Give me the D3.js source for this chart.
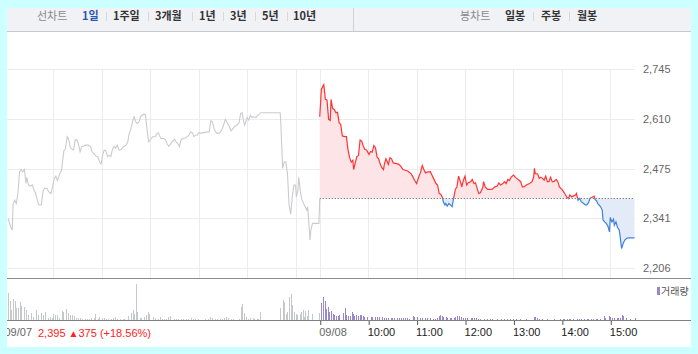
<!DOCTYPE html>
<html>
<head>
<meta charset="utf-8">
<script src="https://cdn.jsdelivr.net/npm/d3@7"></script>
<style>
  html, body { margin: 0; padding: 0; background: #ccffff; }
  svg { display: block; }
  text { font-family: "Liberation Sans", Arial, sans-serif; }
  .kr { font-family: "Noto Sans CJK KR", sans-serif; }
</style>
</head>
<body>
<div id="container"></div>
<script>
const WIDTH = 698;
const HEIGHT = 354;

// 전일 종가
const PREV_CLOSE = 2395;

// 가격축 눈금
const priceTicks = [2206, 2341, 2475, 2610, 2745];

// 하단 축 (분, 09:00 기준 / 두번째 날은 +390)
const axisMinutes = [0, 390, 450, 510, 570, 630, 690, 750];
const axisLabels = ['09/07', '09/08', '10:00', '11:00', '12:00', '13:00', '14:00', '15:00'];
const gridMinutes = [60, 120, 180, 240, 300, 360, 390, 450, 510, 570, 630, 690, 750];

// 09/07 가격 (분, 원)
const prevTimes = [4, 7, 9, 10, 12, 14, 16, 18, 20, 22, 24, 26, 27, 29, 31, 34, 36, 38, 40, 42, 45, 47, 49, 52, 54, 57, 59, 61, 63, 65, 68, 70, 72, 73, 75, 77, 79, 81, 84, 85, 87, 89, 91, 93, 95, 97, 100, 103, 106, 108, 111, 113, 115, 117, 119, 121, 123, 125, 127, 129, 131, 133, 135, 137, 139, 141, 144, 146, 148, 150, 152, 154, 156, 158, 160, 162, 164, 166, 168, 170, 172, 174, 176, 178, 180, 183, 186, 188, 190, 193, 197, 199, 201, 203, 205, 207, 210, 212, 214, 216, 218, 220, 224, 226, 228, 230, 232, 234, 236, 238, 240, 243, 245, 247, 251, 253, 255, 257, 259, 261, 263, 265, 267, 269, 271, 273, 276, 278, 280, 282, 284, 286, 288, 290, 292, 294, 295, 297, 299, 300, 302, 304, 306, 308, 311, 313, 315, 317, 341, 342, 344, 346, 348, 350, 352, 354, 356, 358, 360, 361, 363, 364, 366, 368, 370, 372, 374, 375, 377, 378, 379, 381, 389, 390];
const prevPrices = [2340, 2318, 2309, 2377, 2390, 2381, 2408, 2467, 2473, 2467, 2473, 2435, 2452, 2431, 2428, 2431, 2417, 2408, 2390, 2377, 2377, 2413, 2422, 2422, 2413, 2408, 2426, 2449, 2455, 2443, 2462, 2471, 2508, 2524, 2530, 2562, 2554, 2532, 2527, 2526, 2554, 2553, 2542, 2521, 2535, 2536, 2539, 2539, 2535, 2521, 2514, 2509, 2508, 2494, 2488, 2512, 2526, 2524, 2508, 2512, 2508, 2526, 2536, 2530, 2539, 2526, 2527, 2533, 2536, 2539, 2547, 2571, 2584, 2602, 2616, 2602, 2598, 2602, 2616, 2620, 2623, 2622, 2580, 2548, 2553, 2562, 2562, 2569, 2573, 2557, 2557, 2553, 2542, 2536, 2542, 2548, 2555, 2548, 2544, 2535, 2553, 2557, 2559, 2562, 2566, 2575, 2573, 2562, 2566, 2566, 2573, 2571, 2573, 2573, 2575, 2575, 2605, 2602, 2584, 2575, 2571, 2571, 2575, 2582, 2595, 2609, 2598, 2589, 2578, 2582, 2589, 2591, 2596, 2600, 2625, 2627, 2611, 2593, 2607, 2614, 2607, 2620, 2614, 2616, 2614, 2620, 2623, 2627, 2627, 2589, 2476, 2494, 2494, 2462, 2377, 2352, 2399, 2431, 2431, 2399, 2417, 2452, 2413, 2390, 2381, 2372, 2363, 2372, 2313, 2282, 2309, 2327, 2327, 2395];

// 09/08 가격
const todayTimes = [0, 2, 4, 5, 7, 9, 11, 13, 14, 16, 18, 20, 22, 24, 26, 28, 31, 33, 35, 37, 39, 41, 42, 44, 46, 48, 50, 52, 54, 56, 58, 61, 63, 65, 67, 69, 71, 73, 75, 77, 79, 80, 82, 85, 87, 89, 91, 95, 98, 101, 103, 106, 109, 113, 115, 118, 120, 123, 125, 127, 129, 131, 133, 137, 139, 141, 144, 146, 148, 150, 152, 153, 155, 156, 158, 160, 162, 164, 166, 168, 170, 172, 175, 176, 178, 180, 182, 184, 187, 189, 191, 193, 195, 197, 199, 202, 203, 205, 208, 211, 214, 217, 220, 222, 224, 227, 229, 231, 233, 235, 237, 240, 242, 244, 247, 249, 251, 253, 256, 260, 263, 265, 266, 267, 270, 272, 274, 276, 278, 280, 282, 284, 286, 288, 290, 293, 295, 297, 300, 302, 304, 306, 308, 310, 312, 314, 317, 318, 320, 322, 324, 327, 329, 331, 333, 335, 337, 340, 341, 343, 345, 346, 348, 350, 351, 353, 355, 357, 359, 360, 362, 364, 365, 367, 369, 371, 372, 374, 376, 378, 380, 382, 390];
const todayPrices = [2616, 2690, 2699, 2703, 2663, 2661, 2609, 2606, 2663, 2638, 2636, 2627, 2628, 2600, 2595, 2564, 2562, 2562, 2527, 2505, 2493, 2498, 2473, 2491, 2508, 2511, 2553, 2550, 2536, 2527, 2526, 2514, 2522, 2520, 2538, 2532, 2507, 2502, 2487, 2478, 2473, 2487, 2502, 2487, 2505, 2502, 2491, 2489, 2487, 2480, 2473, 2471, 2469, 2462, 2455, 2442, 2435, 2455, 2466, 2484, 2473, 2464, 2466, 2467, 2458, 2449, 2435, 2431, 2408, 2406, 2397, 2386, 2377, 2381, 2374, 2381, 2377, 2372, 2397, 2419, 2426, 2455, 2435, 2426, 2444, 2455, 2431, 2437, 2440, 2446, 2435, 2437, 2422, 2408, 2410, 2424, 2440, 2426, 2419, 2419, 2420, 2426, 2428, 2437, 2431, 2435, 2440, 2435, 2446, 2443, 2452, 2458, 2453, 2449, 2444, 2440, 2426, 2426, 2431, 2435, 2440, 2452, 2476, 2462, 2461, 2449, 2452, 2449, 2444, 2455, 2440, 2440, 2452, 2440, 2440, 2446, 2440, 2426, 2419, 2413, 2406, 2399, 2394, 2404, 2399, 2401, 2404, 2408, 2390, 2395, 2386, 2381, 2377, 2377, 2383, 2395, 2397, 2401, 2392, 2388, 2379, 2377, 2372, 2363, 2336, 2331, 2327, 2320, 2304, 2343, 2331, 2338, 2322, 2331, 2316, 2309, 2295, 2259, 2273, 2282, 2286, 2288, 2288];

// 거래량 (상대값)
const prevVolTimes = [4, 6, 7, 10, 13, 14, 16, 19, 20, 23, 24, 26, 29, 32, 35, 38, 41, 45, 47, 50, 53, 56, 58, 60, 62, 65, 67, 71, 72, 75, 78, 80, 83, 85, 88, 91, 93, 96, 99, 101, 104, 107, 110, 112, 115, 117, 120, 123, 125, 128, 131, 134, 136, 139, 143, 146, 148, 152, 153, 156, 158, 160, 162, 164, 167, 169, 172, 175, 177, 179, 183, 186, 189, 192, 194, 197, 200, 202, 204, 209, 212, 214, 218, 221, 224, 227, 230, 233, 236, 239, 248, 251, 254, 256, 260, 263, 266, 269, 271, 274, 276, 280, 282, 290, 292, 294, 296, 299, 301, 304, 307, 309, 312, 314, 316, 341, 344, 346, 348, 350, 352, 354, 356, 358, 360, 362, 365, 367, 369, 370, 372, 374, 376, 381, 389];
const prevVols = [27, 19, 10, 21, 19, 12, 12, 18, 14, 13, 6, 10, 5, 7, 3, 10, 5, 7, 5, 8, 2, 3, 2, 6, 5, 5, 2, 9, 8, 11, 7, 5, 5, 4, 2, 2, 2, 1, 1, 1, 1, 2, 2, 6, 1, 3, 2, 2, 1, 1, 1, 2, 3, 1, 1, 1, 1, 2, 4, 7, 10, 6, 36, 8, 2, 2, 3, 5, 8, 6, 3, 2, 1, 3, 1, 1, 1, 3, 4, 1, 1, 1, 1, 1, 1, 1, 2, 1, 1, 1, 1, 1, 3, 2, 1, 1, 1, 1, 2, 3, 2, 1, 1, 1, 13, 16, 7, 3, 1, 2, 2, 1, 1, 1, 8, 12, 20, 18, 6, 8, 23, 26, 15, 8, 6, 5, 6, 8, 10, 3, 9, 4, 10, 6, 7];
const todayVolTimes = [2, 4, 6, 8, 10, 12, 14, 16, 18, 20, 22, 24, 29, 31, 33, 35, 37, 40, 41, 43, 45, 48, 50, 51, 53, 55, 59, 63, 65, 69, 71, 74, 77, 79, 82, 84, 88, 90, 92, 96, 98, 101, 103, 106, 108, 111, 115, 117, 120, 121, 124, 127, 130, 133, 136, 140, 143, 145, 148, 149, 151, 153, 156, 158, 161, 163, 166, 168, 170, 173, 175, 177, 180, 183, 187, 189, 191, 194, 196, 199, 203, 207, 211, 214, 220, 224, 228, 232, 236, 240, 243, 248, 255, 266, 267, 269, 272, 276, 282, 290, 298, 301, 303, 306, 309, 310, 314, 319, 321, 324, 327, 331, 333, 336, 338, 342, 344, 347, 352, 354, 358, 360, 362, 365, 368, 370, 372, 375, 376, 379, 380, 384, 390];
const todayVols = [17, 23, 19, 11, 13, 8, 9, 6, 5, 4, 4, 5, 7, 12, 5, 4, 4, 8, 6, 4, 5, 4, 5, 5, 4, 3, 3, 3, 3, 3, 3, 3, 3, 2, 2, 2, 2, 2, 2, 2, 2, 2, 2, 2, 2, 1, 4, 3, 3, 3, 2, 2, 2, 2, 2, 1, 1, 2, 4, 5, 4, 3, 3, 2, 2, 2, 2, 3, 4, 4, 3, 2, 2, 2, 2, 2, 2, 2, 1, 1, 1, 1, 1, 1, 1, 1, 1, 1, 1, 1, 1, 1, 1, 3, 3, 2, 1, 1, 1, 1, 1, 1, 1, 1, 1, 1, 1, 1, 1, 1, 1, 1, 1, 1, 1, 1, 1, 1, 4, 2, 4, 3, 2, 2, 2, 2, 2, 5, 4, 2, 1, 1, 2];

const prevData = prevTimes.map((t, i) => [t, prevPrices[i]]);
const todayData = todayTimes.map((t, i) => [t + 390, todayPrices[i]]);
const prevVolData = prevVolTimes.map((t, i) => [t, prevVols[i]]);
const todayVolData = todayVolTimes.map((t, i) => [t + 390, todayVols[i]]);

const svg = d3.select('#container')
              .append('svg')
                .attr('width', WIDTH)
                .attr('height', HEIGHT);

const defs = svg.append('defs');
defs.append('clipPath').attr('id', 'panel')
    .append('rect').attr('x', 7).attr('y', 8).attr('width', 684).attr('height', 339);

const x = d3.scaleLinear().domain([0, 780]).range([5, 634.5]);
const y = d3.scaleLinear().domain([2179, 2824]).range([278, 40]);
const yv = d3.scaleLinear().domain([0, 36]).range([320, 284]);
const baseY = y(PREV_CLOSE);

defs.append('clipPath').attr('id', 'above')
    .append('rect').attr('x', 0).attr('y', 0).attr('width', WIDTH).attr('height', baseY);
defs.append('clipPath').attr('id', 'below')
    .append('rect').attr('x', 0).attr('y', baseY).attr('width', WIDTH).attr('height', 278 - baseY);

const root = svg.append('g').attr('clip-path', 'url(#panel)');

root.append('rect')
    .attr('x', 7).attr('y', 8).attr('width', 684).attr('height', 339)
    .attr('fill', '#fff');

// 상단 메뉴
root.append('rect')
    .attr('x', 7).attr('y', 8).attr('width', 684).attr('height', 23)
    .attr('fill', '#f1f2f6');
root.append('line')
    .attr('x1', 7).attr('x2', 691).attr('y1', 31.5).attr('y2', 31.5)
    .attr('stroke', '#c9c9cc');
root.append('line')
    .attr('x1', 353.5).attr('x2', 353.5).attr('y1', 8).attr('y2', 31)
    .attr('stroke', '#d0d0d4');

const menu = [
  { t: '선차트', x: 37, c: '#8a8a8a', w: 'normal' },
  { t: '1일', x: 82, c: '#2c56b4', w: 'bold' },
  { t: '1주일', x: 113, c: '#333', w: 'bold' },
  { t: '3개월', x: 155, c: '#333', w: 'bold' },
  { t: '1년', x: 199, c: '#333', w: 'bold' },
  { t: '3년', x: 230, c: '#333', w: 'bold' },
  { t: '5년', x: 262, c: '#333', w: 'bold' },
  { t: '10년', x: 293, c: '#333', w: 'bold' },
  { t: '봉차트', x: 460, c: '#8a8a8a', w: 'normal' },
  { t: '일봉', x: 505, c: '#333', w: 'bold' },
  { t: '주봉', x: 541, c: '#333', w: 'bold' },
  { t: '월봉', x: 577, c: '#333', w: 'bold' }
];
const menuSeps = [106, 148, 192, 223, 255, 287, 533, 569];

root.selectAll('text.menu')
    .data(menu)
    .enter()
    .append('text')
      .attr('class', 'menu kr')
      .attr('x', d => d.x)
      .attr('y', 20)
      .attr('font-size', 11)
      .attr('font-weight', d => d.w)
      .attr('fill', d => d.c)
      .text(d => d.t);

root.selectAll('line.sep')
    .data(menuSeps)
    .enter()
    .append('line')
      .attr('class', 'sep')
      .attr('x1', d => d + 0.5).attr('x2', d => d + 0.5)
      .attr('y1', 12).attr('y2', 21)
      .attr('stroke', '#d8d8dc');

// 격자
root.selectAll('line.hgrid')
    .data(priceTicks)
    .enter()
    .append('line')
      .attr('x1', 7).attr('x2', 635)
      .attr('y1', d => Math.round(y(d)) + 0.5)
      .attr('y2', d => Math.round(y(d)) + 0.5)
      .attr('stroke', '#ececec');

root.selectAll('line.vgrid')
    .data(gridMinutes)
    .enter()
    .append('line')
      .attr('x1', d => Math.round(x(d)) + 0.5)
      .attr('x2', d => Math.round(x(d)) + 0.5)
      .attr('y1', 69).attr('y2', 278)
      .attr('stroke', '#ececec');

// 당일 영역
const area = d3.area()
               .x(d => x(d[0]))
               .y0(baseY)
               .y1(d => y(d[1]));
const line = d3.line()
               .x(d => x(d[0]))
               .y(d => y(d[1]));

root.append('path').datum(todayData)
    .attr('d', area).attr('fill', '#fde5e7')
    .attr('clip-path', 'url(#above)');
root.append('path').datum(todayData)
    .attr('d', area).attr('fill', '#e3ebf8')
    .attr('clip-path', 'url(#below)');

root.append('line')
    .attr('x1', x(390)).attr('x2', x(780))
    .attr('y1', Math.round(baseY) + 0.5).attr('y2', Math.round(baseY) + 0.5)
    .attr('stroke', '#555')
    .attr('stroke-dasharray', '1,2');

root.append('path').datum(prevData)
    .attr('d', line)
    .attr('fill', 'none')
    .attr('stroke', '#cbcbcf')
    .attr('stroke-width', 1.1);

root.append('path').datum(todayData)
    .attr('d', line)
    .attr('fill', 'none')
    .attr('stroke', '#ff3333')
    .attr('stroke-width', 1.2)
    .attr('clip-path', 'url(#above)');
root.append('path').datum(todayData)
    .attr('d', line)
    .attr('fill', 'none')
    .attr('stroke', '#3f80dc')
    .attr('stroke-width', 1.2)
    .attr('clip-path', 'url(#below)');

// 구분선
root.append('line')
    .attr('x1', 7).attr('x2', 691).attr('y1', 278.5).attr('y2', 278.5)
    .attr('stroke', '#8c8c8c');

// 가격축
const axisRight = d3.axisRight(y)
                    .tickValues(priceTicks)
                    .tickSize(0)
                    .tickPadding(0)
                    .tickFormat(d3.format(','));
const ra = root.append('g')
               .attr('transform', 'translate(643, 0)')
               .call(axisRight);
ra.select('.domain').remove();
ra.selectAll('text')
  .attr('font-family', '"Liberation Sans", Arial, sans-serif')
  .attr('font-size', 11)
  .attr('fill', '#666');

// 거래량
root.selectAll('rect.pv')
    .data(prevVolData)
    .enter()
    .append('rect')
      .attr('x', d => Math.round(x(d[0])))
      .attr('y', d => yv(d[1]))
      .attr('width', 1)
      .attr('height', d => 320 - yv(d[1]))
      .attr('fill', '#c6c7cb');

root.selectAll('rect.tv')
    .data(todayVolData)
    .enter()
    .append('rect')
      .attr('x', d => Math.round(x(d[0])))
      .attr('y', d => yv(d[1]))
      .attr('width', 1)
      .attr('height', d => 320 - yv(d[1]))
      .attr('fill', '#9a87cb');

root.append('rect')
    .attr('x', 657).attr('y', 287).attr('width', 3).attr('height', 8)
    .attr('fill', '#9a87cb');
root.append('text')
    .attr('class', 'kr')
    .attr('x', 661).attr('y', 295)
    .attr('font-size', 10)
    .attr('fill', '#555')
    .text('거래량');

// 시간축
const axisBottom = d3.axisBottom(x)
                     .tickValues(axisMinutes)
                     .tickSize(5)
                     .tickPadding(3)
                     .tickFormat((d, i) => axisLabels[i]);
const ba = root.append('g')
               .attr('transform', 'translate(0, 320)')
               .call(axisBottom);
ba.select('.domain').remove();
ba.selectAll('line').attr('stroke', '#555').attr('transform', 'translate(0.5, 0)');
ba.selectAll('text')
  .attr('text-anchor', 'start')
  .attr('x', -1)
  .attr('font-family', '"Liberation Sans", Arial, sans-serif')
  .attr('font-size', 11)
  .attr('fill', (d, i) => i < 2 ? '#666' : '#222');

root.append('line')
    .attr('x1', 7).attr('x2', 691).attr('y1', 320.5).attr('y2', 320.5)
    .attr('stroke', '#808080');

// 전일 종가 정보
const info = root.append('text')
                 .attr('x', 38).attr('y', 337)
                 .attr('font-size', 11)
                 .attr('fill', '#f22');
info.append('tspan').text('2,395 ');
info.append('tspan').attr('font-size', 10).text('▲');
info.append('tspan').text('375 (+18.56%)');
</script>
</body>
</html>
